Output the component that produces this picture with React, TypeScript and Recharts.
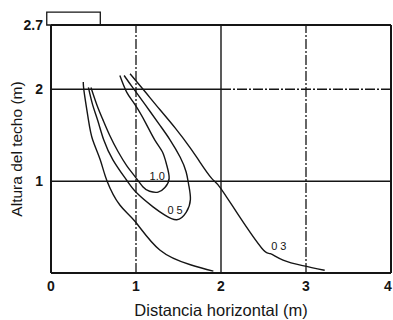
import {
  LineChart,
  Line,
  XAxis,
  YAxis,
  ReferenceLine,
  ReferenceArea,
  ReferenceDot,
} from "recharts";

// contour lines (x = distancia, y = altura)
const c03LeftX = [0.38, 0.39, 0.44, 0.49, 0.58, 0.66, 0.81, 0.99, 1.28, 1.64, 1.91];
const c03LeftY = [2.08, 1.97, 1.67, 1.45, 1.23, 1.0, 0.74, 0.56, 0.25, 0.09, 0.02];

const c05X = [0.44, 0.49, 0.55, 0.62, 0.73, 0.89, 1.01, 1.2, 1.34, 1.48, 1.59, 1.64, 1.62, 1.59, 1.52, 1.4, 1.28, 1.11, 0.96, 0.86];
const c05Y = [2.02, 1.83, 1.66, 1.45, 1.23, 1.01, 0.87, 0.72, 0.63, 0.58, 0.66, 0.8, 0.96, 1.1, 1.26, 1.45, 1.61, 1.83, 2.02, 2.15];

const c10X = [0.47, 0.54, 0.61, 0.69, 0.79, 0.89, 0.98, 1.08, 1.16, 1.26, 1.34, 1.39, 1.36, 1.31, 1.22, 1.11, 0.99, 0.89, 0.81];
const c10Y = [2.02, 1.83, 1.67, 1.5, 1.32, 1.17, 1.06, 0.94, 0.89, 0.88, 0.93, 1.03, 1.18, 1.32, 1.45, 1.64, 1.83, 1.97, 2.15];

const c03RightX = [0.93, 1.11, 1.28, 1.46, 1.64, 1.75, 1.89, 1.99, 2.22, 2.48, 2.58, 2.73, 2.96, 3.22];
const c03RightY = [2.17, 1.97, 1.78, 1.58, 1.36, 1.21, 1.03, 0.93, 0.61, 0.27, 0.21, 0.14, 0.08, 0.03];

const xTicks = [0, 1, 2, 3, 4];
const yTicks = [1, 2, 2.7];

const contourLabels = [
  { x: 1.25, y: 1.05, text: "1.0" },
  { x: 1.46, y: 0.68, text: "0 5" },
  { x: 2.68, y: 0.29, text: "0 3" },
];

const zip = (xs: number[], ys: number[]) => xs.map((x, i) => ({ x, y: ys[i] }));

const curves = [
  zip(c03LeftX, c03LeftY),
  zip(c05X, c05Y),
  zip(c10X, c10Y),
  zip(c03RightX, c03RightY),
];

const ink = "#151515";

// last tick sits right on the page edge, nudge it in a bit
const XTick = (props: any) => {
  const { x, y, payload } = props;
  const last = payload.value === xTicks[xTicks.length - 1];
  return (
    <text
      x={last ? x - 3 : x}
      y={y}
      dy="0.71em"
      textAnchor="middle"
      fill={ink}
      fontSize={14}
      fontWeight="bold"
    >
      {payload.value}
    </text>
  );
};

export default function App() {
  // fixed box so the page never gets scrollbars
  return (
    <div
      style={{
        position: "fixed",
        left: 0,
        top: 0,
        width: 393,
        height: 320,
        padding: "8px 0 0 8px",
        boxSizing: "border-box",
        overflow: "hidden",
        background: "#fff",
      }}
    >
      <LineChart
        width={385}
        height={312}
        margin={{ top: 17, right: 2, bottom: 0, left: 0 }}
        style={{ fontFamily: "'Liberation Sans', Arial, sans-serif" }}
      >
        <XAxis
          type="number"
          dataKey="x"
          domain={[0, 4]}
          ticks={xTicks}
          interval={0}
          allowDataOverflow
          height={47}
          tickLine={false}
          axisLine={{ stroke: ink, strokeWidth: 2 }}
          tick={<XTick />}
          label={{
            value: "Distancia horizontal (m)",
            position: "insideBottom",
            offset: 4,
            fill: ink,
            fontSize: 16.5,
          }}
        />
        <YAxis
          type="number"
          domain={[0, 2.7]}
          ticks={yTicks}
          interval={0}
          allowDataOverflow
          width={43}
          tickLine={false}
          axisLine={{ stroke: ink, strokeWidth: 2 }}
          tick={{ fill: ink, fontSize: 14, fontWeight: "bold" }}
          label={{
            value: "Altura del techo  (m)",
            angle: -90,
            position: "insideLeft",
            offset: 8,
            fill: ink,
            fontSize: 15.5,
            style: { textAnchor: "middle" },
          }}
        />

        {/* grid */}
        <ReferenceLine x={1} stroke={ink} strokeWidth={1.3} strokeDasharray="10 2 2 2" />
        <ReferenceLine x={2} stroke={ink} strokeWidth={1.4} />
        <ReferenceLine x={3} stroke={ink} strokeWidth={1.3} strokeDasharray="10 2 2 2" />
        <ReferenceLine y={1} stroke={ink} strokeWidth={1.5} />
        <ReferenceLine segment={[{ x: 0, y: 2 }, { x: 2, y: 2 }]} stroke={ink} strokeWidth={1.4} />
        <ReferenceLine segment={[{ x: 2, y: 2 }, { x: 4, y: 2 }]} stroke={ink} strokeWidth={1.4} strokeDasharray="10 2 2 2" />

        {/* frame */}
        <ReferenceLine y={2.7} stroke={ink} strokeWidth={2} ifOverflow="visible" />
        <ReferenceLine x={4} stroke={ink} strokeWidth={2} ifOverflow="visible" />
        <ReferenceArea
          x1={-0.05}
          x2={0.58}
          y1={2.7}
          y2={2.84}
          fill="#fff"
          fillOpacity={1}
          stroke={ink}
          strokeWidth={1.3}
          ifOverflow="visible"
        />

        {curves.map((d, i) => (
          <Line
            key={i}
            data={d}
            dataKey="y"
            type="natural"
            stroke={ink}
            strokeWidth={1.4}
            dot={false}
            isAnimationActive={false}
          />
        ))}

        {contourLabels.map((l) => (
          <ReferenceDot
            key={l.text}
            x={l.x}
            y={l.y}
            r={0}
            label={{ value: l.text, position: "center", fill: ink, fontSize: 11 }}
          />
        ))}
      </LineChart>
    </div>
  );
}
